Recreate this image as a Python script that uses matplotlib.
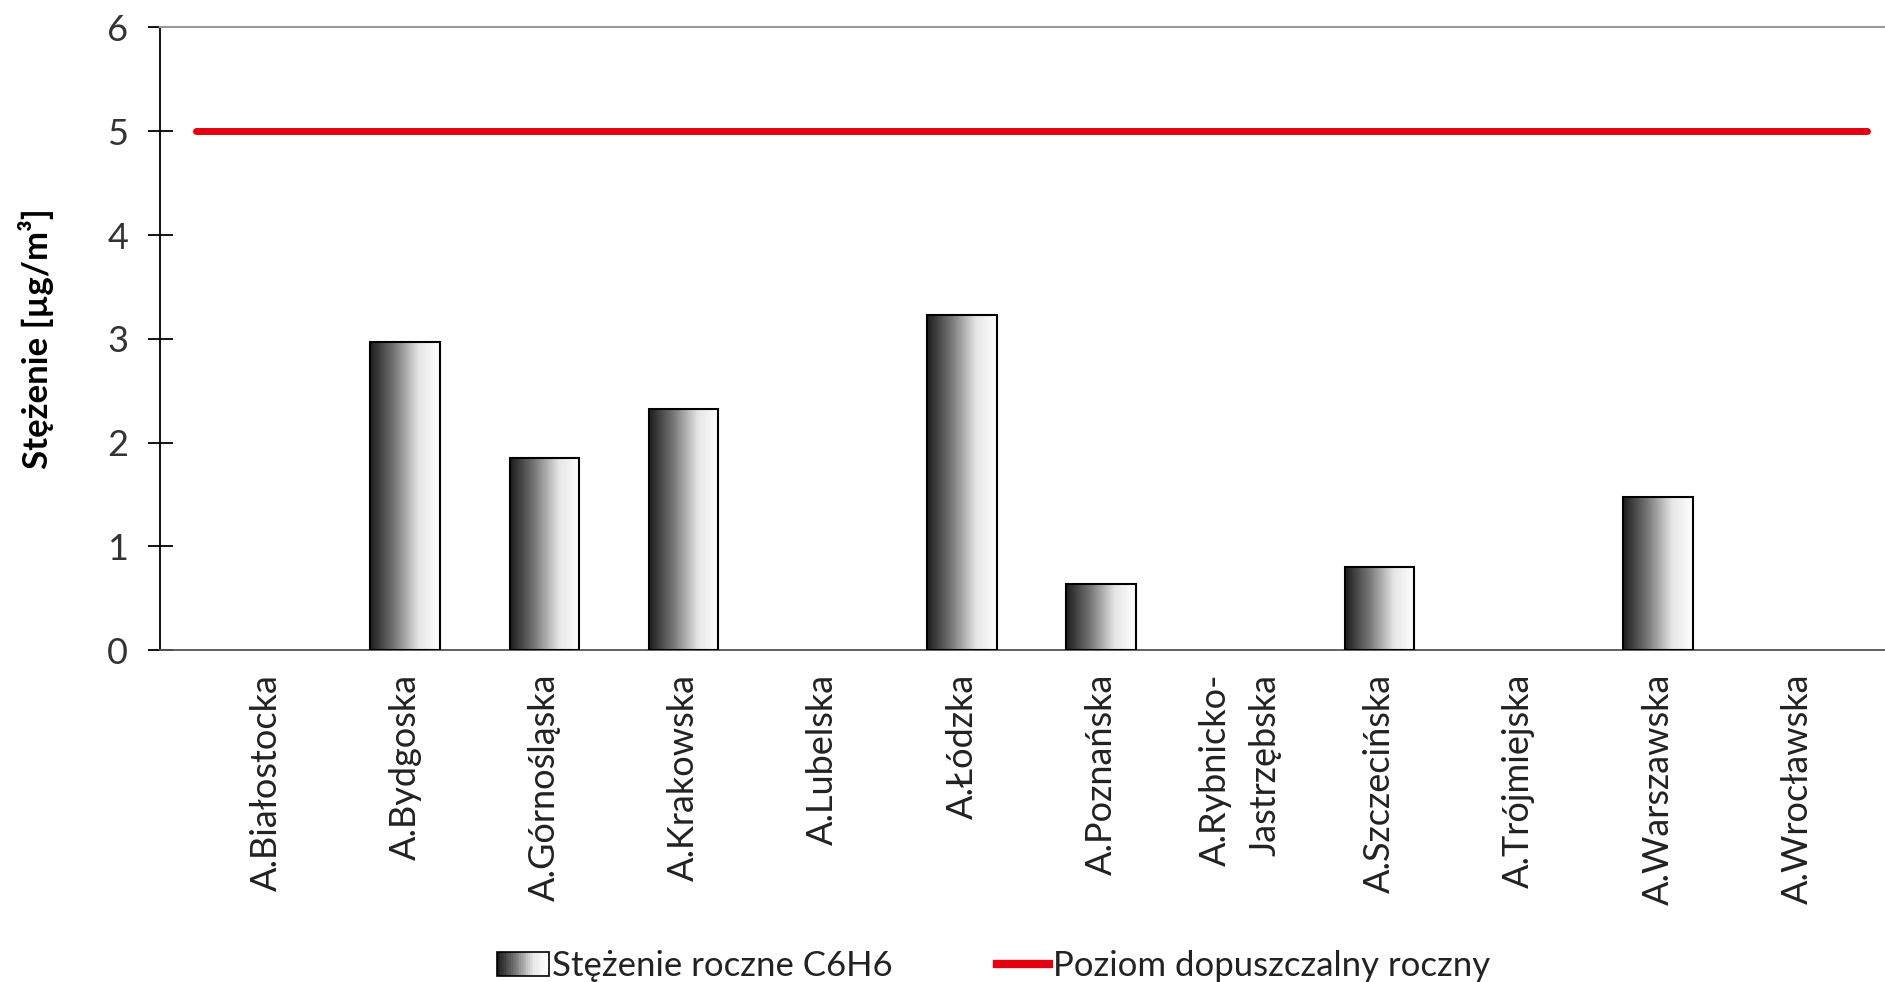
import matplotlib.pyplot as plt
import numpy as np
from matplotlib.colors import LinearSegmentedColormap
from matplotlib.patches import Rectangle
from matplotlib.lines import Line2D
from matplotlib.legend_handler import HandlerBase

plt.rcParams['font.family'] = ['Lato', 'DejaVu Sans']

categories = ["A.Białostocka", "A.Bydgoska", "A.Górnośląska", "A.Krakowska",
              "A.Lubelska", "A.Łódzka", "A.Poznańska", "A.Rybnicko-\nJastrzębska",
              "A.Szczecińska", "A.Trójmiejska", "A.Warszawska", "A.Wrocławska"]
values = [0, 2.97, 1.85, 2.32, 0, 3.23, 0.64, 0, 0.80, 0, 1.48, 0]
limit = 5
yticks = [0, 1, 2, 3, 4, 5, 6]

# dark on the left fading to white on the right
grad = LinearSegmentedColormap.from_list(
    "grad", [(0, "#1c1c1c"), (0.35, "#777777"), (0.7, "#e6e6e6"), (1, "#ffffff")])


class GradientHandler(HandlerBase):
    def create_artists(self, legend, orig_handle, xdescent, ydescent,
                       width, height, fontsize, trans):
        artists = []
        n = 30
        w = width / n
        for i in range(n):
            r = Rectangle((-xdescent + i * w, -ydescent), w * 1.05, height,
                          facecolor=grad(i / (n - 1)), edgecolor="none",
                          transform=trans)
            artists.append(r)
        artists.append(Rectangle((-xdescent, -ydescent), width, height,
                                 facecolor="none", edgecolor="black", lw=1.2,
                                 transform=trans))
        return artists


fig = plt.figure(figsize=(18.85, 9.82), dpi=100)
ax = fig.add_axes([0.085, 0.338, 0.915, 0.634])

x = np.arange(len(categories))
edge = ["black" if v > 0 else "none" for v in values]
bars = ax.bar(x, values, width=0.5, facecolor="none", edgecolor=edge,
              linewidth=1.5, zorder=3)
gimg = np.linspace(0, 1, 256).reshape(1, -1)
for b in bars:
    if b.get_height() > 0:
        ax.imshow(gimg, cmap=grad, aspect="auto", zorder=2,
                  extent=(b.get_x(), b.get_x() + b.get_width(), 0, b.get_height()))

ax.plot([-0.5, len(categories) - 0.5], [limit, limit], color="#e3000f",
        linewidth=5, solid_capstyle="round", zorder=4)

ax.set_xlim(-0.76, len(categories) - 0.37)
ax.set_ylim(0, 6)
ax.set_yticks(yticks)
ax.set_xticks(x)
ax.set_xticklabels(categories, rotation=90, va="top", ha="center",
                   multialignment="right", fontsize=26, color="#222222",
                   linespacing=1.6)
ax.tick_params(axis="x", length=0, pad=17)
ax.tick_params(axis="y", direction="inout", length=18, width=1.3,
               labelsize=26, labelcolor="#333333", pad=14)

ax.spines["right"].set_visible(False)
ax.spines["top"].set_color("#999999")
ax.spines["top"].set_linewidth(1.5)
ax.spines["left"].set_linewidth(1.3)
ax.spines["bottom"].set_color("#555555")
ax.spines["bottom"].set_linewidth(1.3)

ax.set_ylabel("Stężenie [µg/m³]", fontsize=25, fontweight="bold", labelpad=38)

h_bar = Rectangle((0, 0), 1, 1)
h_line = Line2D([0], [0], color="#e3000f", linewidth=6)
fig.legend([h_bar, h_line], ["Stężenie roczne C6H6", "Poziom dopuszczalny roczny"],
           handler_map={Rectangle: GradientHandler()},
           loc="lower center", bbox_to_anchor=(0.527, -0.032), ncol=2,
           frameon=False, fontsize=25, handlelength=1.5, handletextpad=0.1,
           columnspacing=3.0, labelcolor="#222222")

plt.savefig("out.png", dpi=100)
plt.close()
